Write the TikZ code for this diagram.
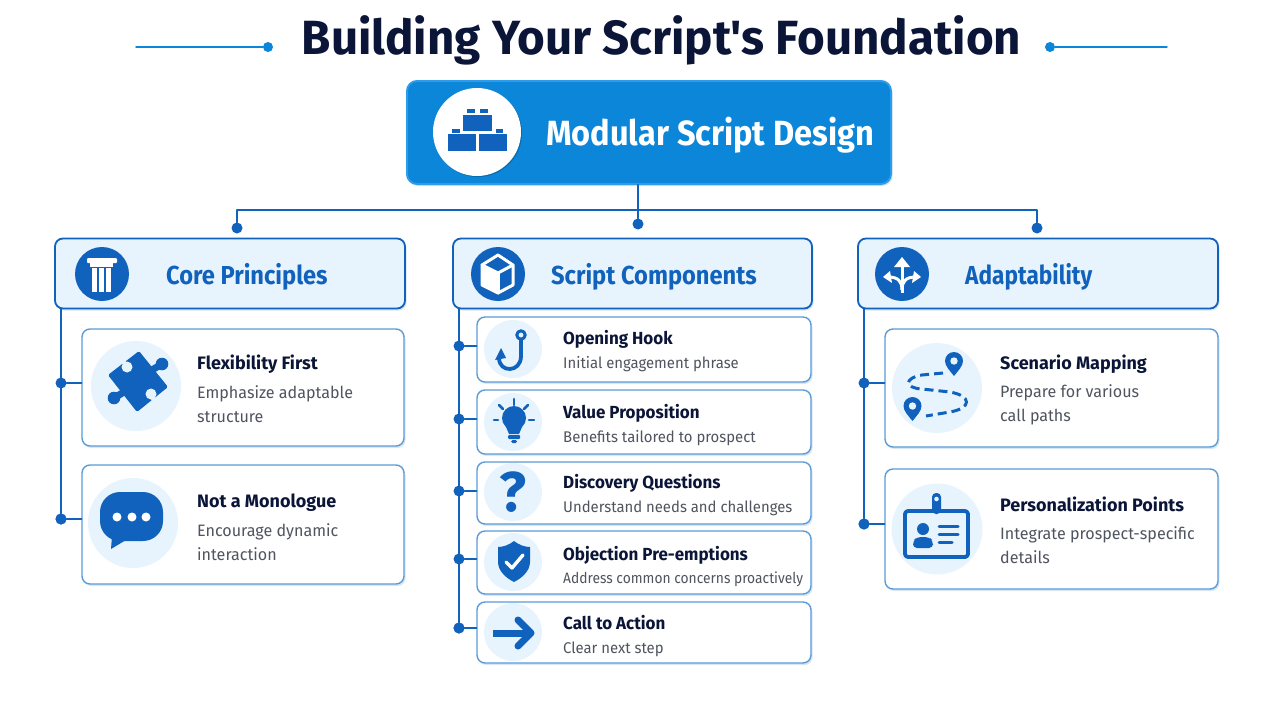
\documentclass[tikz,border=0pt]{standalone}
\usepackage{fontspec}
\setmainfont{Fira Sans}[Ligatures=TeXOff]
\usepackage{tikz}
\usetikzlibrary{arrows,shadows}
\definecolor{ink}{HTML}{0B1538}
\definecolor{bluedark}{HTML}{1062BC}
\definecolor{bluemain}{HTML}{0B86D8}
\definecolor{blueedge}{HTML}{2C9CEB}
\definecolor{bluecard}{HTML}{5B9BD8}
\definecolor{paleblue}{HTML}{E8F4FD}
\definecolor{greytext}{HTML}{50545F}
\tikzset{
  cardshadow/.style={drop shadow={shadow xshift=1.5pt,shadow yshift=-2pt,opacity=.16,fill=bluedark}},
  mainbox/.style={draw=blueedge,fill=bluemain,line width=2pt,rounded corners=10pt,inner sep=0pt,cardshadow},
  headbox/.style={draw=bluedark,fill=paleblue,line width=1.8pt,rounded corners=8pt,inner sep=0pt,cardshadow},
  cardbox/.style={draw=bluecard,fill=white,line width=1.4pt,rounded corners=8pt,inner sep=0pt,cardshadow},
  disk/.style={circle,fill=paleblue,inner sep=0pt},
  headdisk/.style={circle,fill=bluedark,inner sep=0pt,minimum size=54pt},
  dot/.style={circle,fill=bluedark,inner sep=0pt,minimum size=11pt},
  titledot/.style={circle,fill=bluemain,inner sep=0pt,minimum size=10pt},
  conn/.style={draw=bluedark,line width=2.4pt},
  rule/.style={draw=bluemain,line width=1.4pt},
  titletext/.style={anchor=base,inner sep=0pt,text=ink,font=\fontsize{48}{58}\selectfont\bfseries\addfontfeature{FakeStretch=.99}},
  maintext/.style={anchor=base west,inner sep=0pt,text=white,font=\fontsize{35}{42}\selectfont\bfseries\addfontfeature{FakeStretch=.93}},
  headtext/.style={anchor=base west,inner sep=0pt,text=bluedark,font=\fontsize{26}{31}\selectfont\bfseries\addfontfeature{FakeStretch=.91}},
  cardtitle/.style={anchor=base west,inner sep=0pt,text=ink,font=\fontsize{18}{22}\selectfont\bfseries},
  midtitle/.style={anchor=base west,inner sep=0pt,text=ink,font=\fontsize{17.5}{21}\selectfont\bfseries\addfontfeature{FakeStretch=.97}},
  carddesc/.style={anchor=base west,inner sep=0pt,text=greytext,font=\fontsize{16.5}{24}\selectfont\addfontfeature{FakeStretch=.975}},
  smalldesc/.style={anchor=base west,inner sep=0pt,text=greytext,font=\fontsize{15.5}{19}\selectfont\addfontfeature{FakeStretch=.96}},
  whiteline/.style={draw=white,line width=3pt},
  iconline/.style={draw=bluedark,line width=3.8pt}
}
\begin{document}
\begin{tikzpicture}[line cap=round,line join=round,>=triangle 45,x=1pt,y=-1pt]
\useasboundingbox (0,0) rectangle (1280,720);
\node[titletext] (title) at (661.5,54) {Building Your Script's Foundation};
\node[titledot] (ruledotl) at (268,47) {};
\node[titledot] (ruledotr) at (1050,47) {};
\coordinate (ruleendl) at (136,47);
\coordinate (ruleendr) at (1167,47);
\draw[rule] (ruleendl) -- (ruledotl);
\draw[rule] (ruledotr) -- (ruleendr);

\coordinate (bus) at (638,210);
\node[dot] (coredot) at (237,228) {};
\node[dot] (scriptdot) at (638,224) {};
\node[dot] (adaptdot) at (1037,228) {};
\node[mainbox,minimum width=484pt,minimum height=103pt] (modular) at (649,132.5) {};
\draw[conn] (scriptdot |- modular.south) -- (scriptdot);
\draw[conn] (coredot) |- (bus) -| (adaptdot);
\node[circle,fill=white,inner sep=0pt,minimum size=88pt,drop shadow={shadow xshift=1pt,shadow yshift=-1pt,opacity=.2,fill=black}] (modulardisk) at (477,132) {};
\node[maintext] (modulartext) at (546,145) {Modular Script Design};
\fill[bluedark] (463,115) rectangle (492,131);
\fill[bluedark] (467,109) rectangle (475,113);
\fill[bluedark] (480,109) rectangle (488,113);
\fill[bluedark] (448,134) rectangle (476,151);
\fill[bluedark] (479,134) rectangle (507,151);
\fill[bluedark] (452,129) rectangle (460,133);
\fill[bluedark] (496,129) rectangle (503,133);

\node[dot] (coretrunkb) at (61,519) {};
\node[dot] (scripttrunkb) at (459,628) {};
\node[dot] (adapttrunkb) at (864,524) {};
\coordinate (coretrunkt) at (61,309);
\coordinate (scripttrunkt) at (459,309);
\coordinate (adapttrunkt) at (864,309);
\draw[conn] (coretrunkt) -- (coretrunkb);
\draw[conn] (scripttrunkt) -- (scripttrunkb);
\draw[conn] (adapttrunkt) -- (adapttrunkb);

\node[headbox,minimum width=350pt,minimum height=70pt] (corehead) at (230,273.5) {};
\node[headdisk] (coredisk) at (102,274) {};
\node[headtext] (coretext) at (166,284) {Core Principles};
\fill[white,rounded corners=1pt] (87,258) rectangle (117,263);
\fill[white] (90,263) rectangle (113,267);
\fill[white] (92,268) rectangle (97,292);
\fill[white] (99,268) rectangle (104,292);
\fill[white] (106,268) rectangle (111,292);

\node[headbox,minimum width=359pt,minimum height=70pt] (scripthead) at (632.5,273.5) {};
\node[headdisk] (scriptdisk) at (498,274) {};
\node[headtext] (scripttext) at (551,284) {Script Components};
\fill[white] (482,265) -- (498,273) -- (498,293) -- (482,285) -- cycle;
\draw[whiteline] (482,265) -- (498,255) -- (513,265) -- (513,285) -- (498,293) -- (482,285) -- cycle;
\draw[whiteline] (482,265) -- (498,273) -- (513,265);
\draw[whiteline] (498,273) -- (498,293);

\node[headbox,minimum width=360pt,minimum height=70pt] (adapthead) at (1038,273.5) {};
\node[headdisk] (adaptdisk) at (902,274) {};
\node[headtext,font=\fontsize{26}{31}\selectfont\bfseries\addfontfeature{FakeStretch=.87}] (adapttext) at (965,284) {Adaptability};
\draw[whiteline,line cap=butt] (902,293) -- (902,264);
\draw[whiteline,line cap=butt] (902,290) .. controls (902,281) and (898,277) .. (888,277);
\draw[whiteline,line cap=butt] (902,290) .. controls (902,281) and (906,277) .. (916,277);
\fill[white] (902,257) -- (910,267) -- (894,267) -- cycle;
\fill[white] (883,277) -- (890,271) -- (892,283) -- cycle;
\fill[white] (921,277) -- (914,271) -- (912,283) -- cycle;

\node[dot] (flexdot) at (61,383) {};
\node[cardbox,minimum width=322pt,minimum height=117pt] (flexcard) at (243,387.5) {};
\draw[conn] (flexdot) -- (flexdot -| flexcard.west);
\node[disk,minimum size=90pt] (flexdisk) at (136,386) {};
\node[cardtitle] (flextitle) at (197,369) {Flexibility First};
\node[carddesc] (flexdesc) at (197,398) {Emphasize adaptable};
\node[carddesc] (flexdesc2) at (197,422) {structure};
\fill[bluedark,rounded corners=1.5pt] (139,351) -- (168,387) -- (137,412) -- (108,375) -- cycle;
\draw[bluedark,line width=7pt,line cap=butt] (152,370) -- (162,364);
\draw[bluedark,line width=7pt,line cap=butt] (124,392) -- (114,398);
\fill[bluedark] (162,364) circle (6.3);
\fill[bluedark] (114,398) circle (6.3);
\fill[paleblue] (127,367) circle (5.5);
\fill[paleblue] (151,394) circle (5.5);
\draw[paleblue,line width=4pt] (127,367) -- (123,361);
\draw[paleblue,line width=4pt] (151,394) -- (154,401);

\node[dot] (monodot) at (61,519) {};
\node[cardbox,minimum width=322pt,minimum height=119pt] (monocard) at (243,524.5) {};
\draw[conn] (monodot) -- (monodot -| monocard.west);
\node[disk,minimum size=90pt] (monodisk) at (133,523) {};
\node[cardtitle] (monotitle) at (197,507) {Not a Monologue};
\node[carddesc] (monodesc) at (197,536) {Encourage dynamic};
\node[carddesc] (monodesc2) at (197,560) {interaction};
\fill[bluedark,rounded corners=20pt] (100,492) rectangle (163,541);
\fill[bluedark] (112,536) -- (111,549) -- (126,540) -- cycle;
\fill[white] (117,517) circle (4.5);
\fill[white] (132,517) circle (4.5);
\fill[white] (146,517) circle (4.5);

\node[dot] (hookdot) at (459,346) {};
\node[cardbox,minimum width=334pt,minimum height=65pt] (hookcard) at (644,349.5) {};
\draw[conn] (hookdot) -- (hookdot -| hookcard.west);
\node[disk,minimum size=58pt] (hookdisk) at (513,349) {};
\node[midtitle] (hooktitle) at (563,344) {Opening Hook};
\node[smalldesc] (hookdesc) at (563,368) {Initial engagement phrase};
\draw[bluedark,line width=3pt] (521,335) circle (4.2);
\draw[iconline] (521,340) -- (521,356) .. controls (521,373) and (499,373) .. (499,358);
\fill[bluedark] (501,348) -- (495,360) -- (506,358) -- cycle;

\node[dot] (valuedot) at (459,419) {};
\node[cardbox,minimum width=334pt,minimum height=64pt] (valuecard) at (644,422) {};
\draw[conn] (valuedot) -- (valuedot -| valuecard.west);
\node[disk,minimum size=58pt] (valuedisk) at (513,422) {};
\node[midtitle] (valuetitle) at (563,418) {Value Proposition};
\node[smalldesc] (valuedesc) at (563,442) {Benefits tailored to prospect};
\fill[bluedark] (514,418) circle (12);
\fill[bluedark] (506,427) -- (522,427) -- (519,434) -- (509,434) -- cycle;
\fill[bluedark,rounded corners=1pt] (508,435) rectangle (520,439);
\fill[bluedark,rounded corners=1.5pt] (511,440) rectangle (517,443);
\draw[bluedark,line width=2.6pt] (514,399) -- (514,405);
\draw[bluedark,line width=2.6pt] (499,405) -- (503,409);
\draw[bluedark,line width=2.6pt] (528,405) -- (524,409);
\draw[bluedark,line width=2.6pt] (494,420) -- (498,420);
\draw[bluedark,line width=2.6pt] (529,420) -- (534,420);

\node[dot] (discdot) at (459,491) {};
\node[cardbox,minimum width=334pt,minimum height=62pt] (disccard) at (644,493) {};
\draw[conn] (discdot) -- (discdot -| disccard.west);
\node[disk,minimum size=58pt] (discdisk) at (513,492) {};
\node[midtitle] (disctitle) at (563,488) {Discovery Questions};
\node[smalldesc] (discdesc) at (563,512) {Understand needs and challenges};
\node[text=bluedark,inner sep=0pt,font=\fontsize{56}{60}\selectfont\bfseries] (discmark) at (513,492) {?};

\node[dot] (objdot) at (459,559) {};
\node[cardbox,minimum width=334pt,minimum height=63pt] (objcard) at (644,562.5) {};
\draw[conn] (objdot) -- (objdot -| objcard.west);
\node[disk,minimum size=58pt] (objdisk) at (513,562) {};
\node[midtitle] (objtitle) at (563,560) {Objection Pre-emptions};
\node[smalldesc,font=\fontsize{15}{19}\selectfont\addfontfeature{FakeStretch=.92}] (objdesc) at (563,583) {Address common concerns proactively};
\fill[bluedark] (514,541) .. controls (519,545) and (525,547) .. (530,547) -- (530,562) .. controls (530,571) and (522,578) .. (514,582) .. controls (506,578) and (498,571) .. (498,562) -- (498,547) .. controls (503,547) and (509,545) .. (514,541) -- cycle;
\draw[white,line width=3.4pt] (506,562) -- (512,568) -- (523,555);

\node[dot] (calldot) at (459,628) {};
\node[cardbox,minimum width=334pt,minimum height=61pt] (callcard) at (644,632.5) {};
\draw[conn] (calldot) -- (calldot -| callcard.west);
\node[disk,minimum size=58pt] (calldisk) at (513,632) {};
\node[midtitle] (calltitle) at (563,629) {Call to Action};
\node[smalldesc] (calldesc) at (563,653) {Clear next step};
\draw[bluedark,line width=7pt,line cap=butt] (493,633) -- (530,633);
\draw[bluedark,line width=7pt] (518,620) -- (531,633) -- (518,646);

\node[dot] (mapdot) at (864,383) {};
\node[cardbox,minimum width=333pt,minimum height=118pt] (mapcard) at (1051.5,388) {};
\draw[conn] (mapdot) -- (mapdot -| mapcard.west);
\node[disk,minimum size=90pt] (mapdisk) at (937,388) {};
\node[cardtitle] (maptitle) at (1000,369) {Scenario Mapping};
\node[carddesc] (mapdesc) at (1000,397) {Prepare for various};
\node[carddesc] (mapdesc2) at (1000,421) {call paths};
\draw[bluedark,line width=3pt,dash pattern=on 9pt off 5pt,line cap=butt] (943,373) -- (922,375) .. controls (904,378) and (904,388) .. (922,389) -- (950,392) .. controls (972,396) and (972,408) .. (950,412) -- (926,416);
\fill[bluedark] (954,376) .. controls (950,371) and (945,366) .. (945,361) .. controls (945,356) and (949,352) .. (954,352) .. controls (959,352) and (963,356) .. (963,361) .. controls (963,366) and (958,371) .. (954,376) -- cycle;
\fill[paleblue] (954,361) circle (3.7);
\fill[bluedark] (912.5,421) .. controls (908.5,416) and (903.5,411) .. (903.5,406) .. controls (903.5,401) and (907.5,397) .. (912.5,397) .. controls (917.5,397) and (921.5,401) .. (921.5,406) .. controls (921.5,411) and (916.5,416) .. (912.5,421) -- cycle;
\fill[paleblue] (912.5,406) circle (3.7);

\node[dot] (persdot) at (864,524) {};
\node[cardbox,minimum width=333pt,minimum height=120pt] (perscard) at (1051.5,529) {};
\draw[conn] (persdot) -- (persdot -| perscard.west);
\node[disk,minimum size=91pt] (persdisk) at (937,529) {};
\node[cardtitle] (perstitle) at (1000,511) {Personalization Points};
\node[carddesc] (persdesc) at (1000,539) {Integrate prospect-specific};
\node[carddesc] (persdesc2) at (1000,563) {details};
\draw[iconline,rounded corners=3pt] (905,511) rectangle (968,557);
\fill[bluedark,rounded corners=4pt] (932,493) rectangle (941,514);
\fill[paleblue] (936.5,499) circle (2.3);
\fill[bluedark] (923,529) circle (6);
\fill[bluedark,rounded corners=4pt] (913,548) -- (913,541) -- (917,537) -- (929,537) -- (933,541) -- (933,548) -- cycle;
\draw[bluedark,line width=3pt] (939,526) -- (958,526);
\draw[bluedark,line width=3pt] (939,534) -- (958,534);
\draw[bluedark,line width=3pt] (939,542) -- (952,542);
\end{tikzpicture}
\end{document}
